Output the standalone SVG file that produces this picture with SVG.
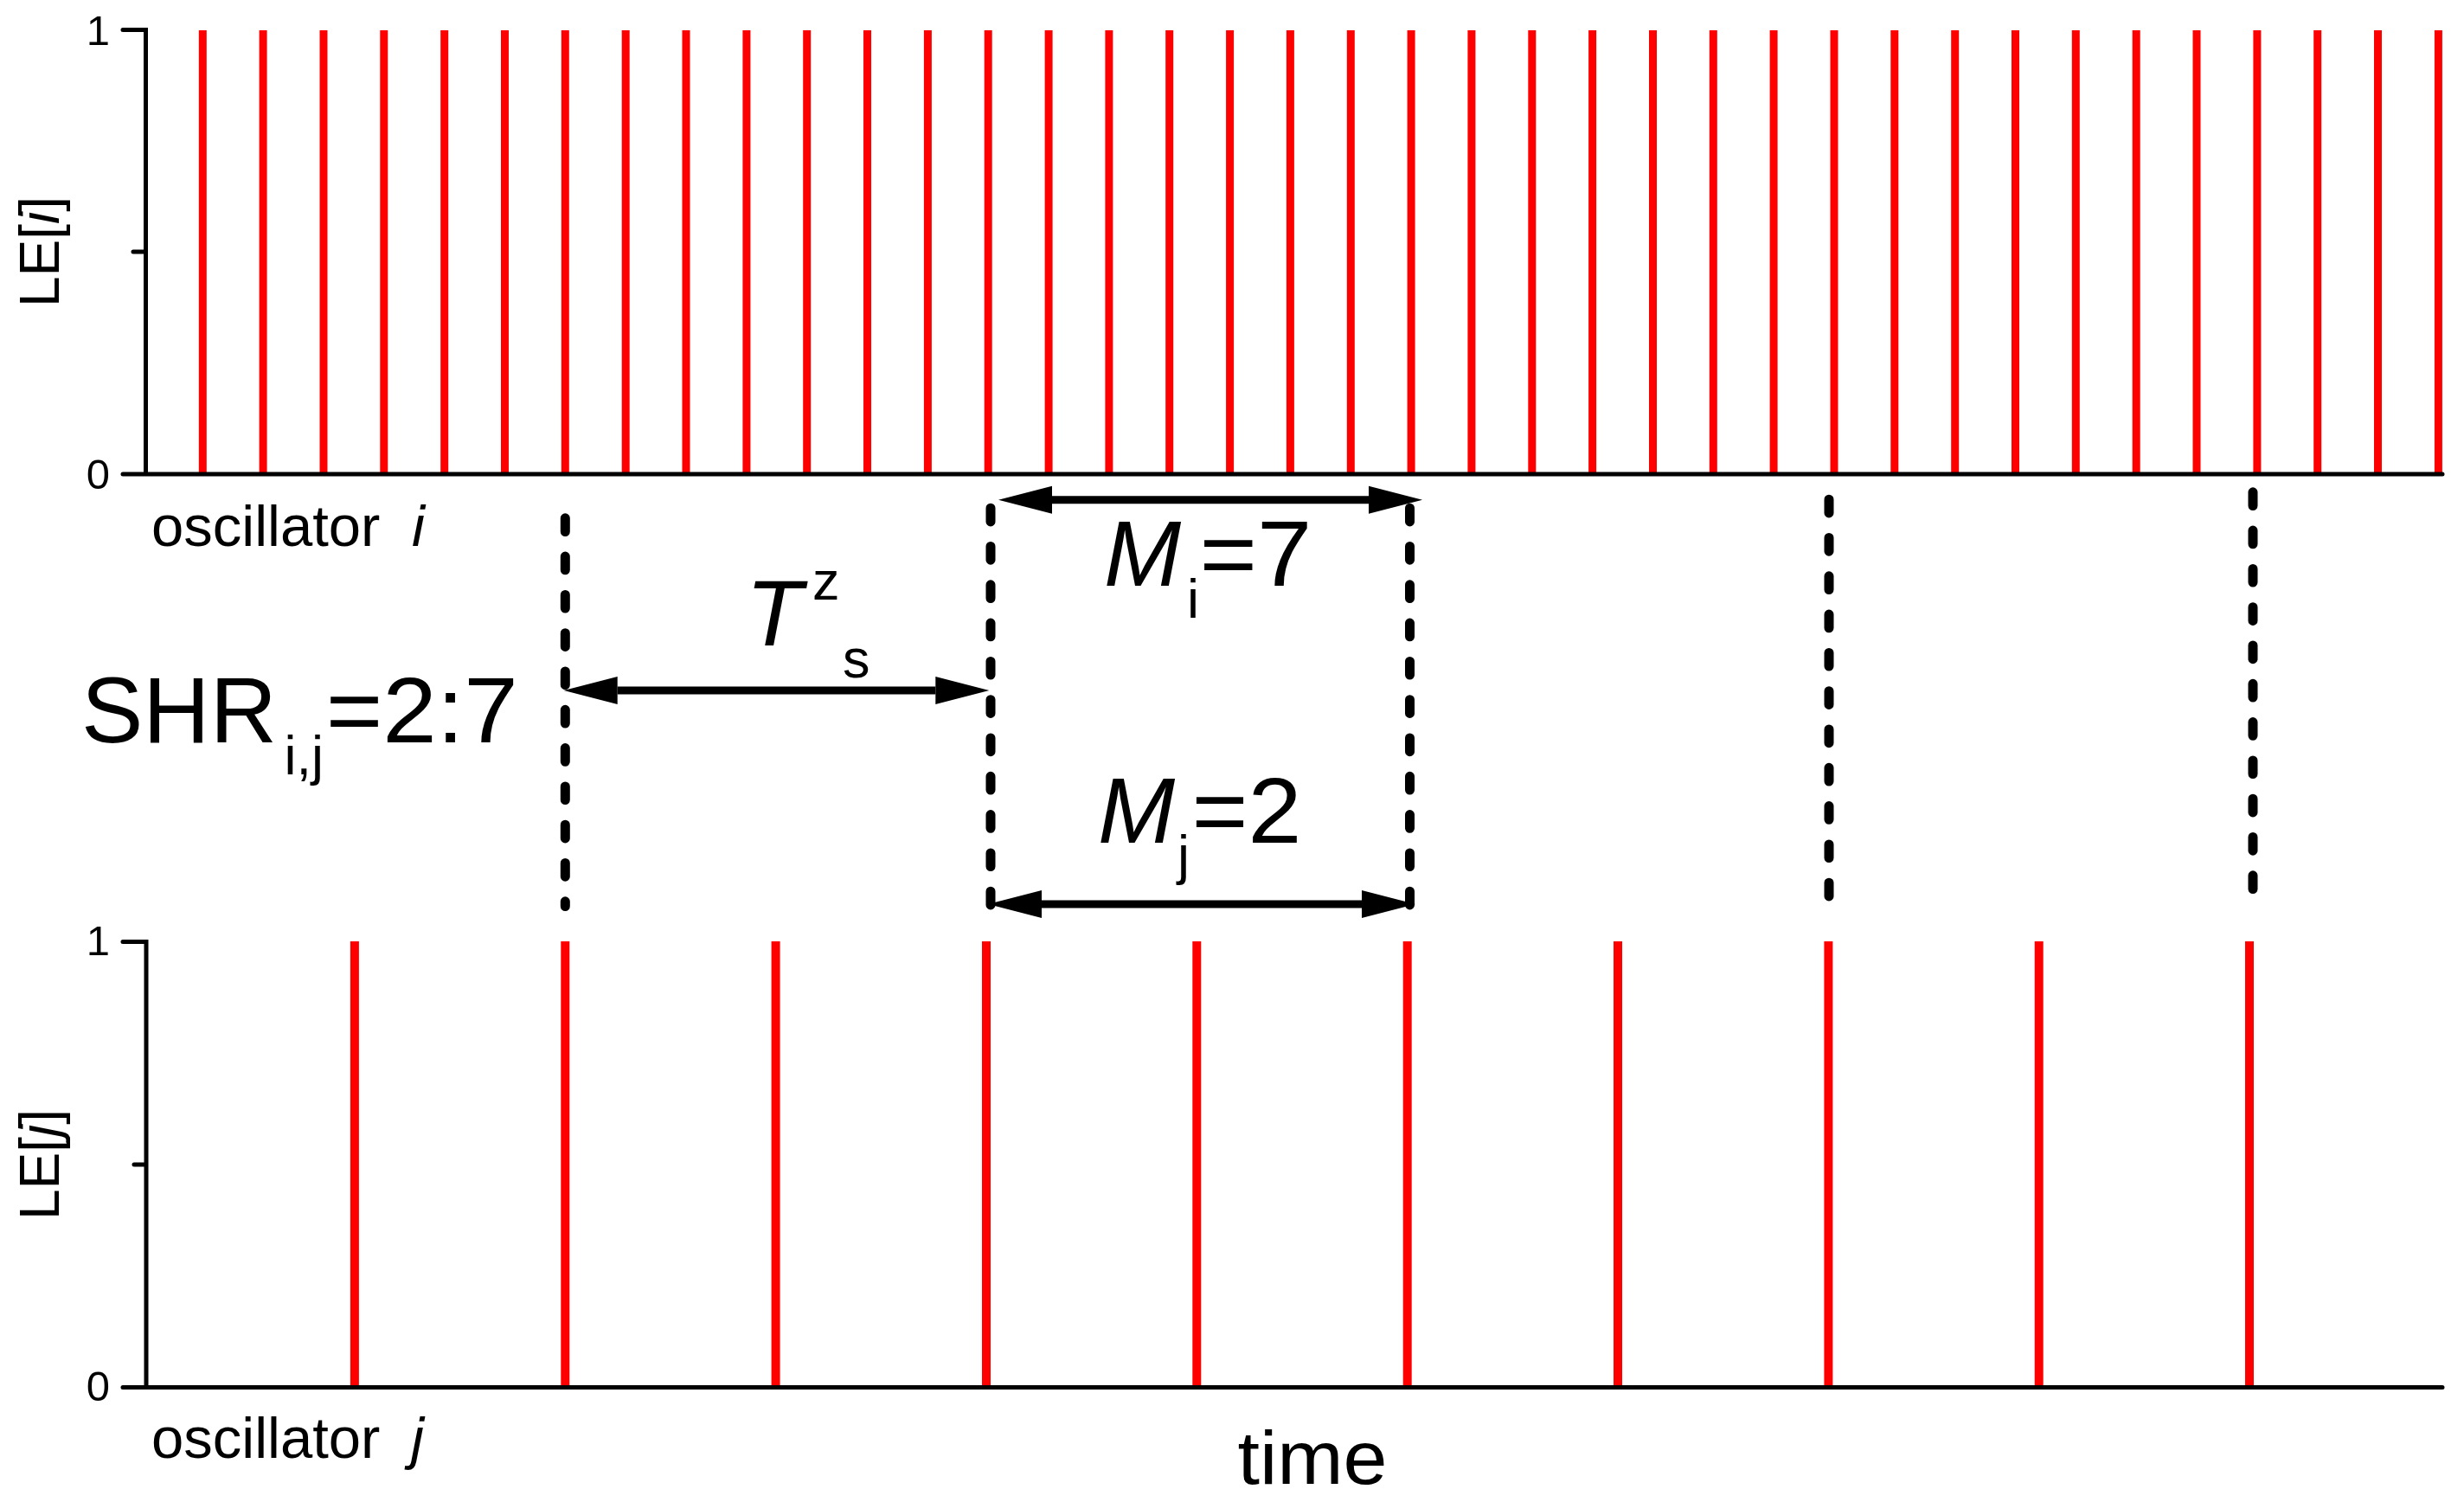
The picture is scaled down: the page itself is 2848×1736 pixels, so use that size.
<svg xmlns="http://www.w3.org/2000/svg" width="2848" height="1736" viewBox="0 0 2848 1736">
<style>
text{font-family:"Liberation Sans",Arial,sans-serif;fill:#000}
.tick{font-size:49px;text-anchor:end}
.ylab{font-size:64px;text-anchor:middle}
.osc{font-size:67px}
.big{font-size:107px}
.sub{font-size:63px}
.it{font-style:italic}
.axis{stroke:#000;stroke-width:5;fill:none;stroke-linecap:round}
.spikes-i{stroke:#FF0000;stroke-width:9;fill:none}
.spikes-j{stroke:#FF0000;stroke-width:10;fill:none}
.dash{stroke:#000;stroke-width:11;fill:none;stroke-linecap:round;stroke-dasharray:15.7 28.6}
.arrow{stroke:#000;stroke-width:9;fill:none;marker-start:url(#head);marker-end:url(#head)}
</style>
<defs>
<marker id="head" markerUnits="userSpaceOnUse" markerWidth="64" markerHeight="34" viewBox="0 0 64 34" refX="1" refY="17" orient="auto-start-reverse">
<path d="M1,1 L63,17 L1,33 Z" fill="#000"/>
</marker>
</defs>
<rect width="2848" height="1736" fill="#fff"/>

<g id="panel-i">
<path class="spikes-i" d="M234.3,35V548M304.1,35V548M374,35V548M443.8,35V548M513.7,35V548M583.5,35V548M653.3,35V548M723.2,35V548M793,35V548M862.9,35V548M932.7,35V548M1002.5,35V548M1072.4,35V548M1142.2,35V548M1212.1,35V548M1281.9,35V548M1351.7,35V548M1421.6,35V548M1491.4,35V548M1561.3,35V548M1631.1,35V548M1700.9,35V548M1770.8,35V548M1840.6,35V548M1910.5,35V548M1980.3,35V548M2050.1,35V548M2120,35V548M2189.8,35V548M2259.7,35V548M2329.5,35V548M2399.3,35V548M2469.2,35V548M2539,35V548M2608.9,35V548M2678.7,35V548M2748.5,35V548M2818.4,35V548"/>
<path class="axis" d="M142,34.5H168.5V548M154,291H168.5M142,548H2823"/>
<text class="tick" x="127" y="52">1</text>
<text class="tick" x="127" y="565">0</text>
<text class="ylab" transform="translate(68,291) rotate(-90)">LE[<tspan class="it">i</tspan>]</text>
<text class="osc" x="175" y="631">oscillator</text>
<text class="osc it" x="476" y="631">i</text>
</g>

<g id="panel-j">
<path class="spikes-j" d="M409.9,1088V1603M653.3,1088V1603M896.6,1088V1603M1140,1088V1603M1383.3,1088V1603M1626.7,1088V1603M1870,1088V1603M2113.4,1088V1603M2356.7,1088V1603M2600,1088V1603"/>
<path class="axis" d="M142,1088.5H169V1603.5M155,1346H169M142,1603.5H2823"/>
<text class="tick" x="127" y="1104">1</text>
<text class="tick" x="127" y="1619">0</text>
<text class="ylab" transform="translate(68,1346) rotate(-90)">LE[<tspan class="it">j</tspan>]</text>
<text class="osc" x="175" y="1685">oscillator</text>
<text class="osc it" x="475" y="1685">j</text>
<text x="1517" y="1715" font-size="88" text-anchor="middle" textLength="173" lengthAdjust="spacingAndGlyphs">time</text>
</g>

<g id="connectors">
<path class="dash" d="M653.3,598.8V1047.5"/>
<path class="dash" d="M1145,587.2V1046.2"/>
<path class="dash" d="M1629.5,587.2V1046.2"/>
<path class="dash" d="M2114,577.2V1036.2"/>
<path class="dash" d="M2604,568.8V1027.8"/>
<path class="arrow" d="M1216,577.8H1582"/>
<path class="arrow" d="M713.7,798H1081.3"/>
<path class="arrow" d="M1204,1045H1574"/>
</g>

<g id="label-shr">
<text class="big" x="94" y="858">SHR</text>
<text class="sub" x="328.6" y="895">i,j</text>
<text class="big" x="376.7" y="858" textLength="222" lengthAdjust="spacingAndGlyphs">=2:7</text>
</g>

<g id="label-ts">
<text class="big it" x="862" y="745.7">T</text>
<text class="sub" x="939" y="692.7">z</text>
<text class="sub" x="974" y="783">s</text>
</g>

<g id="label-mi">
<text class="big it" x="1276" y="676.8">M</text>
<text class="sub" x="1372" y="713.6">i</text>
<text class="big" x="1386.5" y="676.8" textLength="130" lengthAdjust="spacingAndGlyphs">=7</text>
</g>

<g id="label-mj">
<text class="big it" x="1269" y="974">M</text>
<text class="sub" x="1361" y="1010">j</text>
<text class="big" x="1377.5" y="974" textLength="127" lengthAdjust="spacingAndGlyphs">=2</text>
</g>
</svg>
